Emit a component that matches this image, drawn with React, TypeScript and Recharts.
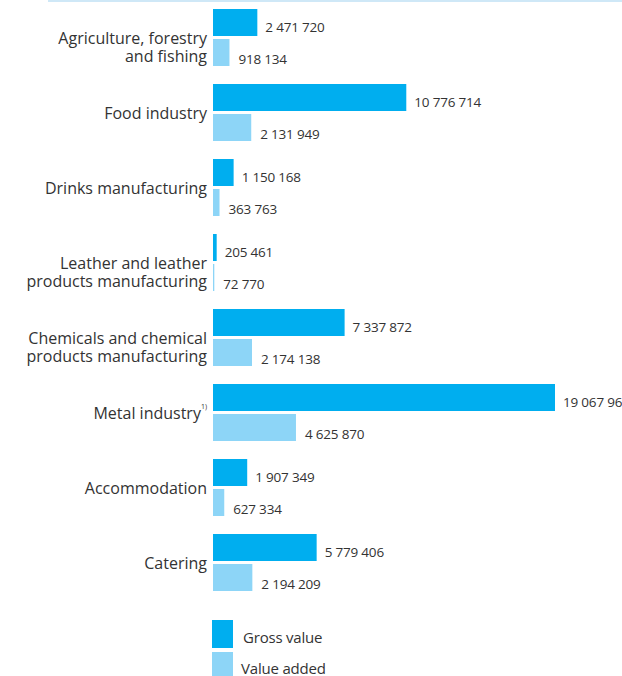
import React from "react";
import { BarChart, Bar, XAxis, YAxis, LabelList } from "recharts";

const categories = [
  "Agriculture, forestry|and fishing",
  "Food industry",
  "Drinks manufacturing",
  "Leather and leather|products manufacturing",
  "Chemicals and chemical|products manufacturing",
  "Metal industry",
  "Accommodation",
  "Catering",
];
const footnotes = ["", "", "", "", "", "1)", "", ""];
const grossValue = [2471720, 10776714, 1150168, 205461, 7337872, 19067960, 1907349, 5779406];
const valueAdded = [918134, 2131949, 363763, 72770, 2174138, 4625870, 627334, 2194209];
const seriesNames = ["Gross value", "Value added"];

const GROSS = "#00aeef";
const ADDED = "#8dd5f7";
const TEXT = "#333333";
const FONT = "'Open Sans', Lato, sans-serif";

const data = categories.map((c, i) => ({
  name: c,
  gross: grossValue[i],
  added: valueAdded[i],
}));

const fmt = (v: number) => String(v).replace(/\B(?=(\d{3})+(?!\d))/g, " ");

const CategoryTick = (props: any) => {
  const { x, y, payload, index } = props;
  const lines = String(payload.value).split("|");
  const note = footnotes[index] || "";
  return (
    <g>
      {lines.map((l: string, i: number) => (
        <text
          key={i}
          x={x + 2}
          y={y + i * 18}
          textAnchor="end"
          dominantBaseline="central"
          fontSize={16}
          fontFamily={FONT}
          fill={TEXT}
        >
          {l}
          {note && i === lines.length - 1 ? (
            <tspan fontSize={7} dy={-7}>{note}</tspan>
          ) : null}
        </text>
      ))}
    </g>
  );
};

const makeLabel = (dx: number, dy: number) => (props: any) => {
  const { x, y, width, height, value } = props;
  return (
    <text
      x={x + width + dx}
      y={y + height / 2 + dy}
      dominantBaseline="central"
      fontSize={13.5}
      letterSpacing={-0.2}
      fontFamily={FONT}
      fill={TEXT}
    >
      {fmt(value)}
    </text>
  );
};

export default function App() {
  return (
    <div style={{ position: "absolute", left: 0, top: 0, width: 622, height: 676, background: "#fff", overflow: "hidden" }}>
      <div style={{ position: "absolute", left: 48, top: 0, width: 574, height: 2, background: "#cfe8f7" }} />
      <BarChart
        width={622}
        height={676}
        data={data}
        layout="vertical"
        margin={{ top: 0, right: 67, bottom: 76, left: 0 }}
        barSize={27}
        barGap={3}
      >
        <XAxis type="number" hide domain={[0, "dataMax"]} />
        <YAxis
          type="category"
          dataKey="name"
          width={213}
          axisLine={false}
          tickLine={false}
          tick={<CategoryTick />}
          interval={0}
        />
        <Bar dataKey="gross" name={seriesNames[0]} fill={GROSS} isAnimationActive={false}>
          <LabelList dataKey="gross" content={makeLabel(8, 4)} />
        </Bar>
        <Bar dataKey="added" name={seriesNames[1]} fill={ADDED} isAnimationActive={false}>
          <LabelList dataKey="added" content={makeLabel(9, 6)} />
        </Bar>
      </BarChart>
      <div style={{ position: "absolute", left: 212, top: 620, fontFamily: FONT, fontSize: 15, letterSpacing: -0.2, color: TEXT }}>
        <div style={{ display: "flex", alignItems: "center", height: 28, marginBottom: 4 }}>
          <div style={{ width: 21, height: 28, background: GROSS }} />
          <span style={{ marginLeft: 10, marginTop: 6 }}>{seriesNames[0]}</span>
        </div>
        <div style={{ display: "flex", alignItems: "center", height: 28 }}>
          <div style={{ width: 21, height: 28, background: ADDED }} />
          <span style={{ marginLeft: 8, marginTop: 4 }}>{seriesNames[1]}</span>
        </div>
      </div>
    </div>
  );
}
